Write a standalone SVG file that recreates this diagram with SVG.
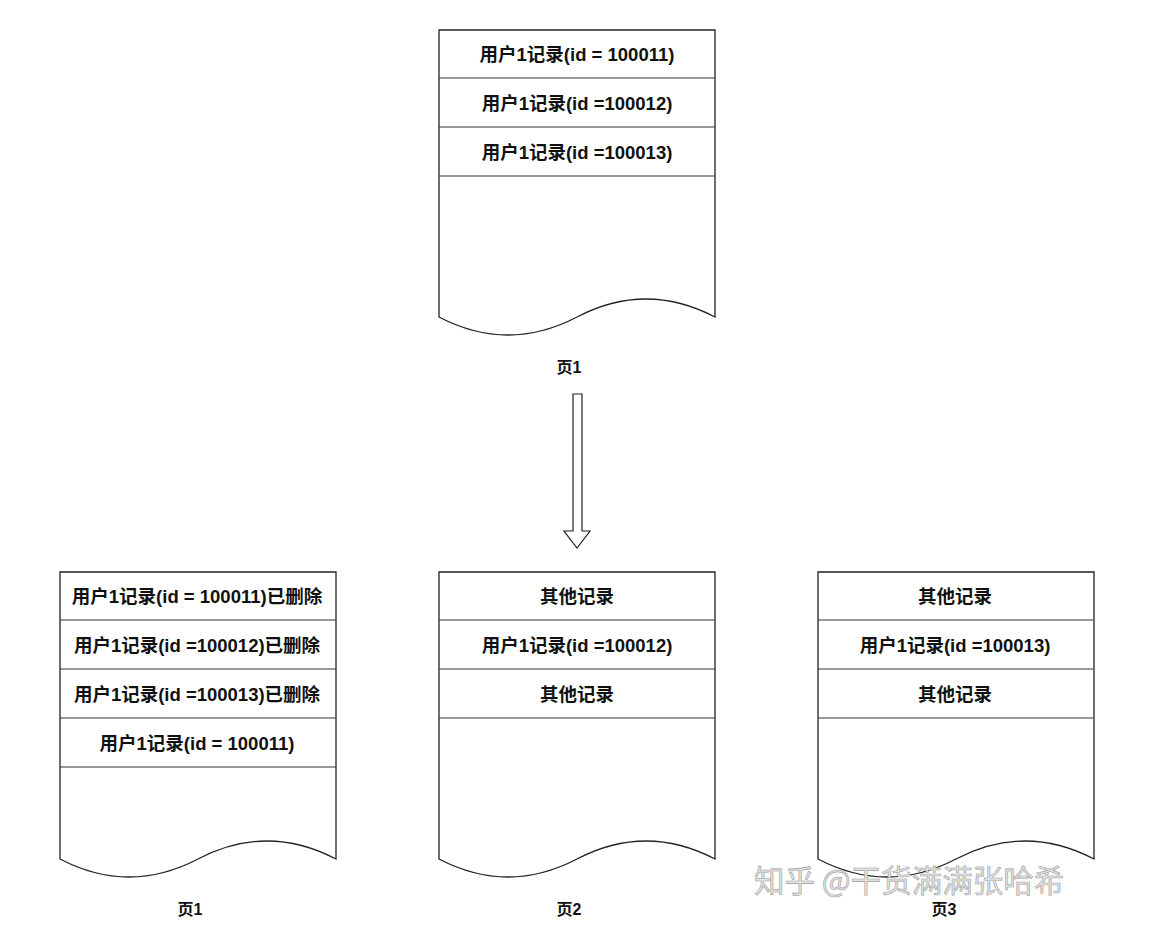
<svg xmlns="http://www.w3.org/2000/svg" width="1172" height="940" viewBox="0 0 1172 940">
<style>
.pg{fill:#fff;stroke:#222;stroke-width:1.3}
.sep{stroke:#333;stroke-width:1.2}
.t{font-family:"Liberation Sans","Noto Sans CJK SC",sans-serif;font-weight:bold;font-size:18.5px;fill:#111;text-anchor:middle}
.lb{font-family:"Liberation Sans","Noto Sans CJK SC",sans-serif;font-weight:bold;font-size:16px;fill:#111;text-anchor:middle}
.wm{font-family:"Noto Sans CJK SC",sans-serif;font-size:30.5px;fill:#e2e2e2;stroke:#a0a0a0;stroke-width:0.6}
</style>
<defs>
<path id="doc" d="M0,0 H276 V287 Q207,251 138,287 T0,287 Z"/>
</defs>
<rect width="1172" height="940" fill="#fff"/>

<g id="top-page" transform="translate(439,30)">
<use href="#doc" class="pg"/>
<line class="sep" x1="0" y1="48" x2="276" y2="48"/>
<line class="sep" x1="0" y1="97" x2="276" y2="97"/>
<line class="sep" x1="0" y1="146" x2="276" y2="146"/>
<text class="t" x="138" y="31">用户1记录(id = 100011)</text>
<text class="t" x="138" y="80">用户1记录(id =100012)</text>
<text class="t" x="138" y="129">用户1记录(id =100013)</text>
</g>
<text id="top-label" class="lb" x="569" y="373">页1</text>

<g id="connectors">
<path d="M573,394 H582 V531 H590 L577,548 L564,531 H573 Z" fill="#fff" stroke="#222" stroke-width="1.2"/>
</g>

<g id="page1" transform="translate(60,572)">
<use href="#doc" class="pg"/>
<line class="sep" x1="0" y1="48" x2="276" y2="48"/>
<line class="sep" x1="0" y1="97" x2="276" y2="97"/>
<line class="sep" x1="0" y1="146" x2="276" y2="146"/>
<line class="sep" x1="0" y1="195" x2="276" y2="195"/>
<text class="t" x="137" y="31">用户1记录(id = 100011)已删除</text>
<text class="t" x="137" y="80">用户1记录(id =100012)已删除</text>
<text class="t" x="137" y="129">用户1记录(id =100013)已删除</text>
<text class="t" x="137" y="178">用户1记录(id = 100011)</text>
</g>
<text class="lb" x="190" y="915">页1</text>

<g id="page2" transform="translate(439,572)">
<use href="#doc" class="pg"/>
<line class="sep" x1="0" y1="48" x2="276" y2="48"/>
<line class="sep" x1="0" y1="97" x2="276" y2="97"/>
<line class="sep" x1="0" y1="146" x2="276" y2="146"/>
<text class="t" x="138" y="31">其他记录</text>
<text class="t" x="138" y="80">用户1记录(id =100012)</text>
<text class="t" x="138" y="129">其他记录</text>
</g>
<text class="lb" x="569" y="915">页2</text>

<g id="page3" transform="translate(818,572)">
<use href="#doc" class="pg"/>
<line class="sep" x1="0" y1="48" x2="275" y2="48"/>
<line class="sep" x1="0" y1="97" x2="275" y2="97"/>
<line class="sep" x1="0" y1="146" x2="275" y2="146"/>
<text class="t" x="137" y="31">其他记录</text>
<text class="t" x="137" y="80">用户1记录(id =100013)</text>
<text class="t" x="137" y="129">其他记录</text>
</g>
<text class="lb" x="944" y="915">页3</text>

<text class="wm" x="754" y="892">知乎 @干货满满张哈希</text>
</svg>
